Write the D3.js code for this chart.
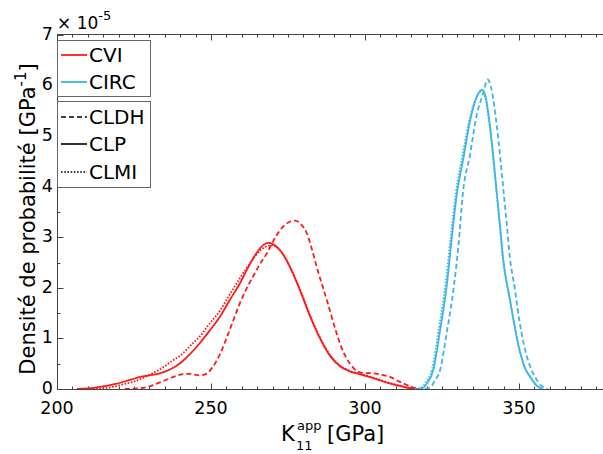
<!DOCTYPE html>
<html><head><meta charset="utf-8">
<script src="https://cdn.jsdelivr.net/npm/d3@7"></script>
<style>body{margin:0;background:#fff}svg{display:block}text{font-family:"DejaVu Sans",sans-serif;fill:#000}</style>
</head><body><svg id="c" width="603" height="454"></svg>
<script>
// K11 app [GPa] vs density (x 1e-5)
const cviCLP = [[206.5,0],[210,0.01],[214,0.04],[219,0.1],[223.7,0.18],[227,0.24],[230,0.27],[233.4,0.31],[236.5,0.38],[240,0.51],[243,0.68],[246.4,0.91],[249.5,1.15],[252.9,1.43],[256,1.75],[259.4,2.09],[262,2.4],[264.8,2.69],[267,2.85],[268.8,2.89],[270.5,2.85],[273,2.7],[275.6,2.42],[278.9,1.95],[282.1,1.45],[285.4,1.0],[288.6,0.66],[291.9,0.45],[295,0.35],[298.4,0.29],[302,0.23],[304.9,0.17],[308,0.11],[311.4,0.06],[314,0.02],[317,0]];
const cviCLMI = [[211.7,0],[214,0.01],[218,0.04],[220.5,0.08],[224.7,0.14],[228,0.22],[231,0.31],[234.5,0.43],[237.7,0.57],[240,0.66],[244,0.9],[246.4,1.04],[249,1.25],[252.9,1.55],[257,1.96],[262.7,2.49],[266,2.74],[268,2.82],[269.8,2.84],[271.5,2.8],[274,2.6],[276.5,2.3],[279.5,1.88],[282.5,1.4],[285.7,0.98],[289,0.64],[292,0.46],[295,0.36],[298.5,0.3],[302,0.24],[305,0.18],[308,0.12],[311.5,0.06],[314.5,0.02],[317,0]];
const cviCLDH = [[222,0],[226,0.01],[230,0.05],[233.4,0.13],[237,0.22],[240.5,0.29],[243,0.3],[246.4,0.27],[248.5,0.3],[250.6,0.44],[253,0.7],[255.2,1.03],[257.5,1.4],[259.4,1.7],[261.5,1.98],[263.6,2.22],[266,2.48],[268.2,2.69],[270,2.9],[272.4,3.14],[274.5,3.27],[277.3,3.33],[279.3,3.25],[281.1,3.08],[282.7,2.78],[284.3,2.42],[287.6,1.76],[290.8,1.1],[292.5,0.8],[294.1,0.6],[295.5,0.47],[297.3,0.36],[299,0.32],[302.6,0.31],[305.5,0.28],[308.1,0.24],[311,0.15],[313.6,0.08],[316,0.02],[318,0]];
const circCLP = [[317,0],[319,0.03],[320,0.1],[322.2,0.38],[324.4,1.17],[326.5,2.02],[328.1,2.95],[329.8,3.85],[331.9,4.55],[334.1,5.3],[336.3,5.78],[337.9,5.92],[339,5.82],[340.6,5.19],[342.8,3.87],[343.8,3.25],[344.8,2.6],[347.1,1.75],[350.3,0.74],[352,0.4],[353.6,0.24],[355.5,0.08],[357.6,0]];
const circCLMI = [[316.2,0],[318.5,0.04],[319.6,0.12],[321.8,0.4],[324,1.2],[326.1,2.05],[327.8,2.98],[329.5,3.88],[331.6,4.6],[333.8,5.3],[336,5.74],[337.6,5.88],[338.8,5.8],[340.5,5.19],[342.7,3.9],[343.7,3.27],[344.7,2.62],[347,1.78],[350.2,0.76],[352,0.42],[353.6,0.25],[355.6,0.08],[357.8,0]];
const circCLDH = [[319.5,0],[321.5,0.05],[322.5,0.15],[324.4,0.38],[326.5,1.1],[328.7,1.96],[330.3,2.81],[331.9,3.94],[334,4.6],[336.2,5.4],[338.4,5.85],[339.8,6.12],[341,5.95],[342.8,5.2],[345,3.9],[346,3.28],[347,2.62],[348.7,1.96],[349.5,1.6],[352,0.77],[353.6,0.45],[355.2,0.24],[357.3,0.06],[359.4,0]];
const xTicks = [200,250,300,350];
const yTicks = [0,1,2,3,4,5,6,7];
const legendColors = ["CVI","CIRC"];
const legendStyles = ["CLDH","CLP","CLMI"];

const svg = d3.select("#c");
const x = d3.scaleLinear().domain([200,380]).range([57,611.4]);
const y = d3.scaleLinear().domain([0,7]).range([389,35]);
const red = "#ff1a1a", blue = "#3db5e9";
const dash = {CLDH:"5,3", CLP:null, CLMI:"1.6,1.6"};

svg.append("clipPath").attr("id","clip").append("rect")
  .attr("x",57).attr("y",35).attr("width",560).attr("height",354);

// axes frame
const ax = svg.append("g").attr("stroke","#444").attr("stroke-width",1).attr("fill","none");
ax.append("line").attr("x1",57).attr("x2",603).attr("y1",389.5).attr("y2",389.5);
ax.append("line").attr("x1",57).attr("x2",603).attr("y1",34.5).attr("y2",34.5);
ax.append("line").attr("x1",57.5).attr("x2",57.5).attr("y1",34.5).attr("y2",389.5);
d3.range(200,381,5).forEach(v=>{
  const major = v%50===0, L = major?6:3, px = Math.round(x(v))+0.5;
  ax.append("line").attr("x1",px).attr("x2",px).attr("y1",389.5).attr("y2",389.5-L);
  ax.append("line").attr("x1",px).attr("x2",px).attr("y1",34.5).attr("y2",34.5+L);
});
d3.range(0,7.01,0.5).forEach(v=>{
  const major = Math.abs(v-Math.round(v))<1e-6, L = major?6:3, py = Math.round(y(v))+0.5;
  ax.append("line").attr("x1",57.5).attr("x2",57.5+L).attr("y1",py).attr("y2",py);
});
// tick labels
svg.append("g").selectAll("text").data(xTicks).join("text")
  .attr("x",d=>x(d)).attr("y",414).attr("text-anchor","middle").attr("font-size",17.5).text(d=>d);
svg.append("g").selectAll("text").data(yTicks).join("text")
  .attr("x",53).attr("y",d=>y(d)-1.5).attr("dy","0.36em").attr("text-anchor","end").attr("font-size",17.5).text(d=>d);
// exponent
const ex = svg.append("text").attr("x",57).attr("y",29).attr("font-size",17);
ex.append("tspan").text("× 10");
ex.append("tspan").attr("dy",-9).attr("font-size",13).text("-5");

// curves
const line = d3.line().x(d=>x(d[0])).y(d=>y(d[1])).curve(d3.curveMonotoneX);
const g = svg.append("g").attr("clip-path","url(#clip)").attr("fill","none").attr("stroke-width",1.8);
const series = [
  {d:cviCLP,c:red,s:"CLP"},{d:cviCLMI,c:red,s:"CLMI"},{d:cviCLDH,c:red,s:"CLDH"},
  {d:circCLP,c:blue,s:"CLP"},{d:circCLMI,c:blue,s:"CLMI"},{d:circCLDH,c:blue,s:"CLDH"}
];
series.forEach(s=>{
  g.append("path").attr("d",line(s.d)).attr("stroke",s.c).attr("stroke-dasharray",dash[s.s]);
});

// legends
const lg = svg.append("g");
lg.append("rect").attr("x",57.5).attr("y",40.5).attr("width",93).attr("height",56).attr("fill","#fff").attr("stroke","#666");
lg.append("rect").attr("x",57.5).attr("y",101.5).attr("width",93).attr("height",86).attr("fill","#fff").attr("stroke","#666");
const c1 = [red, blue], ly1 = [55,82];
legendColors.forEach((n,i)=>{
  lg.append("line").attr("x1",61).attr("x2",87).attr("y1",ly1[i]).attr("y2",ly1[i]).attr("stroke",c1[i]).attr("stroke-width",1.8);
  lg.append("text").attr("x",89).attr("y",ly1[i]).attr("dy","0.36em").attr("font-size",20).text(n);
});
const ly2 = [117,144,172];
legendStyles.forEach((n,i)=>{
  lg.append("line").attr("x1",61).attr("x2",87).attr("y1",ly2[i]).attr("y2",ly2[i]).attr("stroke","#000").attr("stroke-width",1.6).attr("stroke-dasharray",dash[n]);
  lg.append("text").attr("x",89).attr("y",ly2[i]).attr("dy","0.36em").attr("font-size",20).text(n);
});

// axis labels
const yl = svg.append("text").attr("transform","translate(35,219) rotate(-90)").attr("text-anchor","middle").attr("font-size",21);
yl.append("tspan").text("Densité de probabilité [GPa");
yl.append("tspan").attr("dy",-9).attr("font-size",15).text("-1");
yl.append("tspan").attr("dy",9).text("]");
svg.append("text").attr("x",281).attr("y",441).attr("font-size",21).text("K");
svg.append("text").attr("x",297).attr("y",430).attr("font-size",13).text("app");
svg.append("text").attr("x",296).attr("y",450).attr("font-size",13).text("11");
svg.append("text").attr("x",327).attr("y",441).attr("font-size",21).text("[GPa]");
</script></body></html>
